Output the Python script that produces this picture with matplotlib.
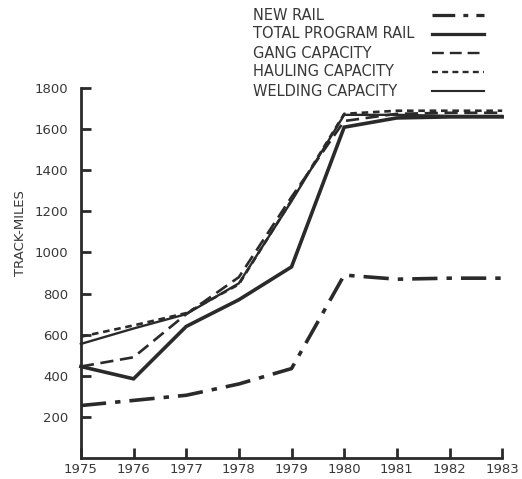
import matplotlib
matplotlib.use("Agg")
import matplotlib.pyplot as plt
from matplotlib.lines import Line2D

years = [1975, 1976, 1977, 1978, 1979, 1980, 1981, 1982, 1983]
new_rail = [255, 280, 305, 360, 435, 890, 870, 875, 875]
total_program_rail = [445, 385, 640, 770, 930, 1610, 1655, 1660, 1660]
gang_capacity = [445, 490, 700, 880, 1270, 1640, 1675, 1680, 1680]
hauling_capacity = [590, 645, 705, 845, 1255, 1675, 1690, 1690, 1690]
welding_capacity = [555, 630, 700, 850, 1250, 1670, 1670, 1665, 1665]

labels = ["NEW RAIL", "TOTAL PROGRAM RAIL", "GANG CAPACITY",
          "HAULING CAPACITY", "WELDING CAPACITY"]

plt.rcParams['font.family'] = ['DejaVu Sans']
ink = '#2a2a2a'
txt = '#383838'

fig = plt.figure(figsize=(5.22, 4.79), dpi=100)
ax = fig.add_axes([0.155, 0.044, 0.807, 0.772])

styles = [
    dict(ls=(0, (7, 2.5, 1.5, 2.5)), lw=2.6),
    dict(ls='-', lw=2.6),
    dict(ls=(0, (5, 2.5)), lw=1.9),
    dict(ls=(0, (2.5, 1.8)), lw=1.9),
    dict(ls='-', lw=1.7),
]
series = [new_rail, total_program_rail, gang_capacity, hauling_capacity, welding_capacity]
for vals, st in zip(series, styles):
    ax.plot(years, vals, color=ink, linestyle=st['ls'], linewidth=st['lw'],
            solid_joinstyle='miter', clip_on=False)

ax.set_xlim(1975, 1983)
ax.set_ylim(0, 1800)
ax.set_xticks(years)
ax.set_yticks(range(200, 1801, 200))
ax.spines['top'].set_visible(False)
ax.spines['right'].set_visible(False)
for s in ['left', 'bottom']:
    ax.spines[s].set_linewidth(2)
    ax.spines[s].set_color(ink)
ax.tick_params(direction='in', length=7, width=2, color=ink,
               labelsize=9.5, labelcolor=txt)
ax.tick_params(axis='y', pad=9)
ax.tick_params(axis='x', pad=4)
ax.set_ylabel("TRACK-MILES", fontsize=9.5, color=txt)
ax.yaxis.set_label_coords(-0.128, 0.608)
ax.patch.set_alpha(0)

# legend: labels left, line samples right
y0 = 1 - 15 / 479
dy = 19 / 479
for i, (lab, st) in enumerate(zip(labels, styles)):
    yy = y0 - i * dy
    fig.text(253 / 522, yy, lab, fontsize=10.5, color=txt, va='center', ha='left')
    fig.add_artist(Line2D([432 / 522, 484 / 522], [yy, yy], color=ink,
                          linestyle=st['ls'], linewidth=st['lw'] * 0.9))

fig.savefig("out.png", dpi=100)
